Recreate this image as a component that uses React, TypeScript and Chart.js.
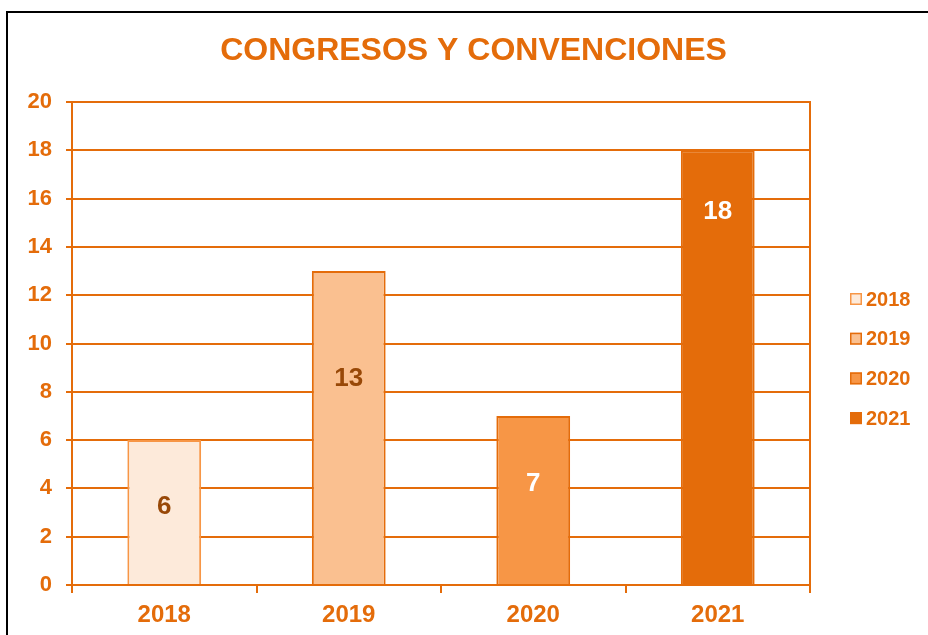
import React, { useEffect, useRef } from "react";
import { Chart, registerables } from "chart.js";

Chart.register(...registerables);

// ---- data ----
const titleText = "CONGRESOS Y CONVENCIONES";
const categories = ["2018", "2019", "2020", "2021"];
const seriesNames = ["2018", "2019", "2020", "2021"];
const values = [6, 13, 7, 18];
const yTicks = [0, 2, 4, 6, 8, 10, 12, 14, 16, 18, 20];
// value-axis level at which each data label sits inside its bar
const labelAt = [3.25, 8.55, 4.18, 15.45];

// ---- styles ----
const ORANGE = "#E46C0A";
const fills = ["#FDEADA", "#FAC090", "#F79646", "#E46C0A"];
const borders = ["#F79646", "#E46C0A", "#E46C0A", "#E46C0A"];
const labelColors = ["#984807", "#984807", "#FFFFFF", "#FFFFFF"];
const FONT = "'Liberation Sans', Arial, Helvetica, sans-serif";

const dataLabelPlugin = {
  id: "dataLabels",
  afterDatasetsDraw(chart: any) {
    const ctx = chart.ctx;
    const yScale = chart.scales.y;
    ctx.save();
    ctx.font = `bold 26px ${FONT}`;
    ctx.textAlign = "center";
    ctx.textBaseline = "middle";
    chart.data.datasets.forEach((ds: any, i: number) => {
      const meta = chart.getDatasetMeta(i);
      const bar = meta.data[i];
      if (!bar) return;
      ctx.fillStyle = labelColors[i];
      ctx.fillText(String(values[i]), bar.x, yScale.getPixelForValue(labelAt[i]));
    });
    ctx.restore();
  },
};

const legendPlugin = {
  id: "sideLegend",
  afterDraw(chart: any) {
    const ctx = chart.ctx;
    const area = chart.chartArea;
    const boxX = area.right + 40;
    const startY = 299;
    const step = 39.7;
    ctx.save();
    ctx.font = `bold 20px ${FONT}`;
    ctx.textAlign = "left";
    ctx.textBaseline = "middle";
    chart.data.datasets.forEach((ds: any, i: number) => {
      const cy = startY + i * step;
      ctx.fillStyle = fills[i];
      ctx.fillRect(boxX, cy - 6, 12, 12);
      ctx.strokeStyle = borders[i];
      ctx.lineWidth = 1.5;
      ctx.strokeRect(boxX + 0.75, cy - 5.25, 10.5, 10.5);
      ctx.fillStyle = ORANGE;
      ctx.fillText(ds.label, boxX + 16, cy + 1);
    });
    ctx.restore();
  },
};

export default function App() {
  const canvasRef = useRef<HTMLCanvasElement | null>(null);

  useEffect(() => {
    if (!canvasRef.current) return;
    const chart = new Chart(canvasRef.current, {
      type: "bar",
      data: {
        labels: categories,
        datasets: seriesNames.map((name, i) => ({
          label: name,
          data: values.map((v, j) => (j === i ? v : null)),
          backgroundColor: fills[i],
          borderColor: borders[i],
          borderWidth: 2,
          categoryPercentage: 0.4,
          barPercentage: 1,
          skipNull: true,
        })),
      },
      options: {
        responsive: false,
        animation: false,
        layout: { padding: { left: 19, right: 0, top: 0, bottom: 0 } },
        plugins: {
          legend: { display: false },
          tooltip: { enabled: false },
          title: {
            display: true,
            text: titleText,
            color: ORANGE,
            font: { family: FONT, size: 32, weight: "bold", lineHeight: 1.2 },
            padding: { top: 32, bottom: 31.6 },
          },
        },
        scales: {
          x: {
            grid: {
              display: true,
              drawOnChartArea: false,
              drawTicks: true,
              tickLength: 8,
              color: ORANGE,
              lineWidth: 2,
              offset: true,
            },
            border: { display: true, color: ORANGE, width: 2 },
            ticks: {
              color: ORANGE,
              font: { family: FONT, size: 24, weight: "bold" },
              padding: 8,
            },
            afterFit: (s: any) => {
              s.height = 50;
            },
          },
          y: {
            position: "left",
            min: 0,
            max: 20,
            afterBuildTicks: (s: any) => {
              s.ticks = yTicks.map((v) => ({ value: v }));
            },
            grid: { color: ORANGE, lineWidth: 2, tickLength: 6, drawTicks: true },
            border: { display: true, color: ORANGE, width: 2 },
            ticks: {
              color: ORANGE,
              font: { family: FONT, size: 22, weight: "bold" },
              padding: 14,
            },
            afterFit: (s: any) => {
              s.width = 53;
            },
          },
          yR: {
            position: "right",
            grid: { display: false },
            ticks: { display: false },
            border: { display: true, color: ORANGE, width: 2 },
            afterFit: (s: any) => {
              s.width = 118;
            },
          },
        },
      } as any,
      plugins: [dataLabelPlugin, legendPlugin],
    });
    return () => chart.destroy();
  }, []);

  return (
    <div
      style={{
        position: "fixed",
        left: 0,
        top: 0,
        width: 928,
        height: 635,
        overflow: "hidden",
        background: "#fff",
      }}
    >
      <div
        style={{
          position: "absolute",
          left: 6,
          top: 11,
          width: 1000,
          height: 1000,
          borderLeft: "2px solid #000",
          borderTop: "2px solid #000",
        }}
      />
      <canvas
        ref={canvasRef}
        width={928}
        height={635}
        style={{ position: "absolute", left: 0, top: 0 }}
      />
    </div>
  );
}
